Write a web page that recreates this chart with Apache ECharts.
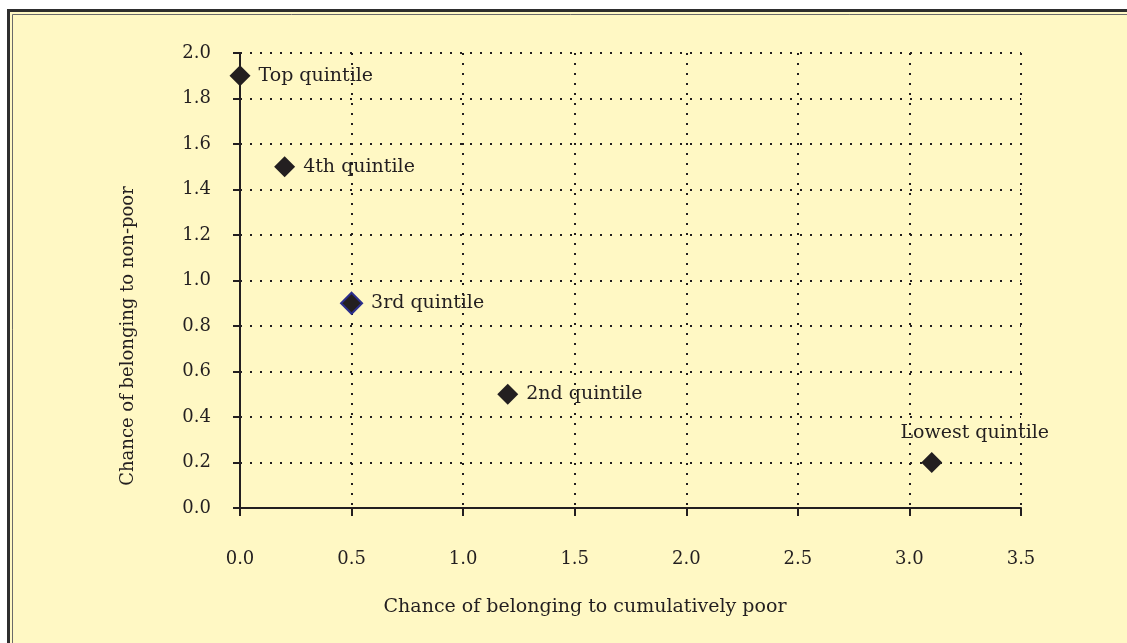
<!DOCTYPE html>
<html>
<head>
<meta charset="utf-8">
<script src="https://cdn.jsdelivr.net/npm/echarts@6/dist/echarts.min.js"></script>
<style>
  html, body { margin: 0; padding: 0; background: #fff; }
  #chart { width: 1127px; height: 643px; }
</style>
</head>
<body>
<div id="chart"></div>
<script>
// quintile groups and their two "chance" ratios
const groups = ['Top quintile', '4th quintile', '3rd quintile', '2nd quintile', 'Lowest quintile'];
const chancePoor = [0.0, 0.2, 0.5, 1.2, 3.1];
const chanceNonPoor = [1.9, 1.5, 0.9, 0.5, 0.2];

const xTitle = 'Chance of belonging to cumulatively poor';
const yTitle = 'Chance of belonging to non-poor';

const bg = '#fff8c4';
const ink = '#231f20';
const font = '"DejaVu Serif", "Liberation Serif", serif';

const chart = echarts.init(document.getElementById('chart'));

const points = groups.map((g, i) => {
  const p = { name: g, value: [chancePoor[i], chanceNonPoor[i]] };
  if (i === 2) p.itemStyle = { borderColor: '#2b2e8c', borderWidth: 2 };
  if (i === 4) p.label = { position: 'top', offset: [43, -1] };
  return p;
});

const dotted = { color: ink, width: 2, type: [2, 8] };

chart.setOption({
  backgroundColor: '#fff',
  animation: false,
  textStyle: { fontFamily: font },
  grid: { left: 240, top: 53, right: 106, bottom: 135 },
  graphic: [
    { type: 'rect', shape: { x: 8.5, y: 10.5, width: 1300, height: 800 },
      style: { fill: bg, stroke: '#2e2e2e', lineWidth: 3 }, z: -10 },
    { type: 'rect', shape: { x: 12.5, y: 14.5, width: 1300, height: 800 },
      style: { fill: 'none', stroke: '#6a6a6a', lineWidth: 1 }, z: -9 },
    { type: 'text', x: 128, y: 336, rotation: Math.PI / 2,
      style: { text: yTitle, font: '18px ' + font, fill: ink, align: 'center', verticalAlign: 'middle' } },
    { type: 'text', x: 585, y: 607,
      style: { text: xTitle, font: '19px ' + font, fill: ink, align: 'center', verticalAlign: 'middle' } }
  ],
  xAxis: {
    type: 'value', min: 0, max: 3.5, interval: 0.5,
    axisLine: { lineStyle: { color: ink, width: 2 } },
    axisTick: { length: 8, lineStyle: { color: ink, width: 2 } },
    axisLabel: { margin: 42, color: ink, fontSize: 18, fontFamily: font,
      formatter: v => v.toFixed(1) },
    splitLine: { show: true, lineStyle: dotted }
  },
  yAxis: {
    type: 'value', min: 0, max: 2, interval: 0.2,
    axisLine: { show: true, lineStyle: { color: ink, width: 2 } },
    axisTick: { show: true, length: 7, lineStyle: { color: ink, width: 2 } },
    axisLabel: { margin: 29, color: ink, fontSize: 18, fontFamily: font,
      formatter: v => v.toFixed(1) },
    splitLine: { show: true, lineStyle: dotted }
  },
  series: [{
    type: 'scatter',
    symbol: 'diamond',
    symbolSize: 21,
    data: points,
    itemStyle: { color: ink, opacity: 1 },
    label: {
      show: true, position: 'right', distance: 8,
      formatter: '{b}', color: ink, fontSize: 19, fontFamily: font
    }
  }]
});
</script>
</body>
</html>
